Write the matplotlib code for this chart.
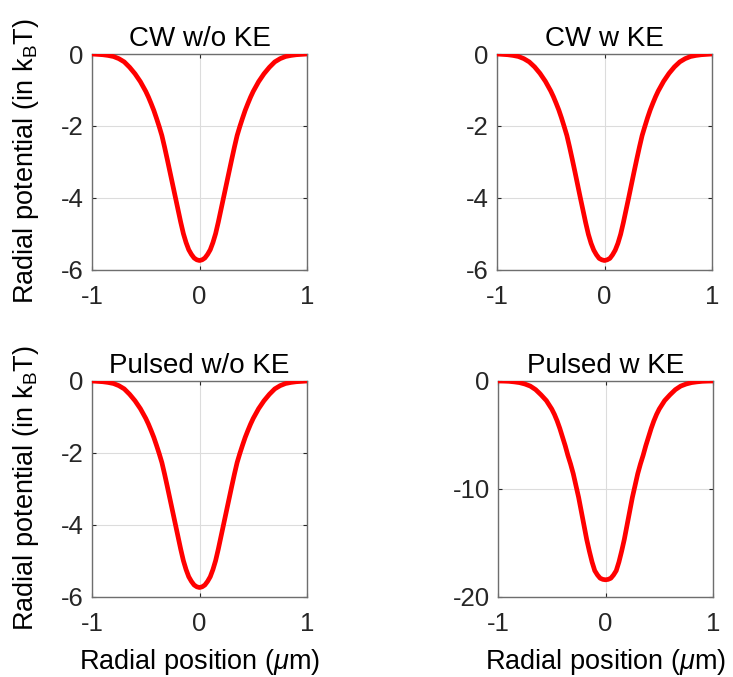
import matplotlib
matplotlib.use("Agg")
import matplotlib.pyplot as plt

plt.rcParams['font.family'] = ['Liberation Sans', 'DejaVu Sans']
plt.rcParams['mathtext.fontset'] = 'custom'
plt.rcParams['mathtext.rm'] = 'Liberation Sans'
plt.rcParams['mathtext.it'] = 'Liberation Sans:italic'

# Radial position (um)
x_pos = [-1.0, -0.95, -0.9, -0.85, -0.8, -0.75, -0.7, -0.65, -0.6, -0.55, -0.5,
         -0.475, -0.45, -0.425, -0.4, -0.375, -0.35, -0.325, -0.3, -0.275, -0.25,
         -0.225, -0.2, -0.175, -0.15, -0.125, -0.1, -0.075, -0.05, -0.025, 0.0,
         0.025, 0.05, 0.075, 0.1, 0.125, 0.15, 0.175, 0.2, 0.225, 0.25,
         0.275, 0.3, 0.325, 0.35, 0.375, 0.4, 0.425, 0.45, 0.475, 0.5,
         0.55, 0.6, 0.65, 0.7, 0.75, 0.8, 0.85, 0.9, 0.95, 1.0]

cw_wo_ke = [0.0, -0.01, -0.02, -0.04, -0.07, -0.13, -0.22, -0.37, -0.55, -0.77, -1.04,
            -1.20, -1.38, -1.57, -1.79, -2.02, -2.27, -2.59, -2.93, -3.28, -3.63,
            -3.98, -4.33, -4.68, -5.00, -5.25, -5.45, -5.58, -5.68, -5.73, -5.75,
            -5.73, -5.68, -5.58, -5.45, -5.25, -5.00, -4.68, -4.33, -3.98, -3.63,
            -3.28, -2.93, -2.59, -2.27, -2.02, -1.79, -1.57, -1.38, -1.20, -1.04,
            -0.77, -0.55, -0.37, -0.22, -0.13, -0.07, -0.04, -0.02, -0.01, 0.0]

cw_w_ke = [0.0, -0.01, -0.02, -0.04, -0.07, -0.13, -0.22, -0.36, -0.54, -0.76, -1.03,
           -1.19, -1.37, -1.56, -1.78, -2.02, -2.27, -2.59, -2.93, -3.28, -3.64,
           -4.00, -4.35, -4.70, -5.02, -5.27, -5.46, -5.59, -5.69, -5.73, -5.75,
           -5.73, -5.69, -5.59, -5.46, -5.27, -5.02, -4.70, -4.35, -4.00, -3.64,
           -3.28, -2.93, -2.59, -2.27, -2.02, -1.78, -1.56, -1.37, -1.19, -1.03,
           -0.76, -0.54, -0.36, -0.22, -0.13, -0.07, -0.04, -0.02, -0.01, 0.0]

pulsed_wo_ke = [0.0, -0.01, -0.02, -0.04, -0.07, -0.13, -0.22, -0.37, -0.55, -0.77, -1.04,
                -1.20, -1.38, -1.57, -1.79, -2.02, -2.27, -2.59, -2.93, -3.28, -3.63,
                -3.98, -4.33, -4.68, -5.00, -5.25, -5.45, -5.58, -5.68, -5.73, -5.75,
                -5.73, -5.68, -5.58, -5.45, -5.25, -5.00, -4.68, -4.33, -3.98, -3.63,
                -3.28, -2.93, -2.59, -2.27, -2.02, -1.79, -1.57, -1.38, -1.20, -1.04,
                -0.77, -0.55, -0.37, -0.22, -0.13, -0.07, -0.04, -0.02, -0.01, 0.0]

pulsed_w_ke = [0.0, -0.01, -0.03, -0.08, -0.15, -0.28, -0.47, -0.80, -1.28, -1.82, -2.6,
               -3.1, -3.7, -4.4, -5.2, -6.0, -6.9, -7.7, -8.6, -9.7, -10.8,
               -12.1, -13.4, -14.7, -15.8, -16.8, -17.6, -18.0, -18.3, -18.41, -18.45,
               -18.41, -18.3, -18.0, -17.6, -16.8, -15.8, -14.7, -13.4, -12.1, -10.8,
               -9.7, -8.6, -7.7, -6.9, -6.0, -5.2, -4.4, -3.7, -3.1, -2.6,
               -1.82, -1.28, -0.80, -0.47, -0.28, -0.15, -0.08, -0.03, -0.01, 0.0]

titles = ["CW w/o KE", "CW w KE", "Pulsed w/o KE", "Pulsed w KE"]
series = [cw_wo_ke, cw_w_ke, pulsed_wo_ke, pulsed_w_ke]
x_ticks = [-1, 0, 1]
y_ticks_small = [-6, -4, -2, 0]
y_ticks_big = [-20, -10, 0]
y_limits = [(-6, 0), (-6, 0), (-6, 0), (-20, 0)]

ylabel_text = r"Radial potential (in k$_{\mathrm{B}}$T)"
xlabel_text = r"Radial position ($\mu$m)"

W, H = 733, 677
fig = plt.figure(figsize=(W / 100, H / 100), dpi=100)

boxes = [(92, 54), (497, 54), (92, 381), (498, 381)]
aw, ah = 215, 215.5

axc = '#262626'
for i, (bx, by) in enumerate(boxes):
    ax = fig.add_axes([bx / W, 1 - (by + ah) / H, aw / W, ah / H])
    ax.plot(x_pos, series[i], color='#ff0000', lw=3.4, solid_capstyle='round',
            solid_joinstyle='round', zorder=3)
    ax.set_xlim(-1, 1)
    ax.set_ylim(*y_limits[i])
    ax.set_xticks(x_ticks)
    ax.set_xticklabels([str(t) for t in x_ticks])
    yt = y_ticks_big if i == 3 else y_ticks_small
    ax.set_yticks(yt)
    ax.set_yticklabels([str(t) for t in yt])
    ax.grid(True, color='#dcdcdc', lw=0.8)
    ax.set_axisbelow(True)
    for s in ax.spines.values():
        s.set_color('#6e6e6e')
        s.set_linewidth(1.0)
    ax.tick_params(direction='in', length=3, width=0.8, color=axc,
                   top=True, right=True, labelsize=18.5, labelcolor=axc)
    ax.tick_params(axis='x', pad=11)
    ax.tick_params(axis='y', pad=6)
    ax.set_title(titles[i], fontsize=20, color='black', pad=6)
    if i in (0, 2):
        ax.set_ylabel(ylabel_text, fontsize=19.5, color='black', labelpad=14)
    if i in (2, 3):
        ax.set_xlabel(xlabel_text, fontsize=19.5, color='black', labelpad=8)

fig.savefig("out.png", dpi=100, facecolor='white')
